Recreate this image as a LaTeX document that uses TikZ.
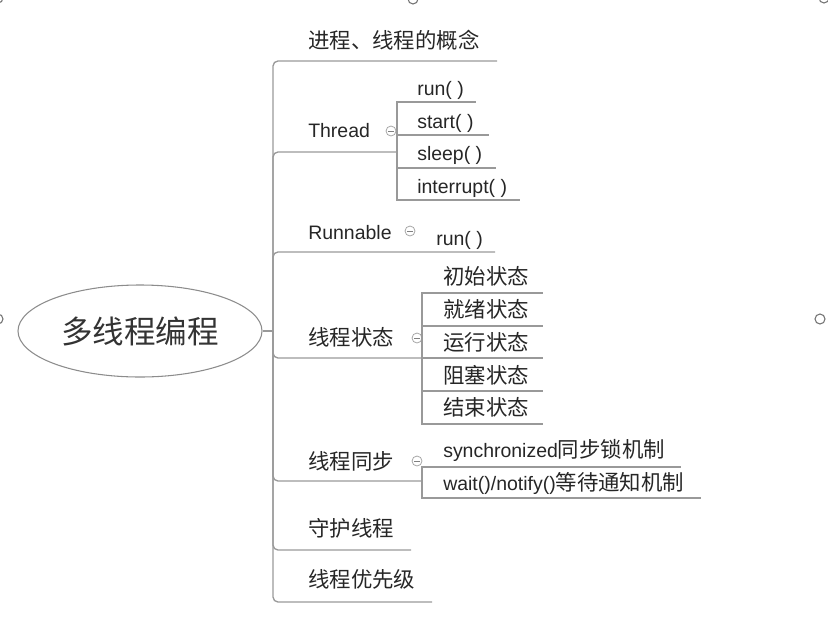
\documentclass[tikz,border=0pt]{standalone}
\usepackage{fontspec}
\setmainfont{Liberation Sans}
\newfontfamily\cjk[Scale=1.1]{Noto Sans CJK SC}
\usetikzlibrary{shapes.geometric}

\begin{document}
\begin{tikzpicture}[x=0.75pt,y=-0.75pt,
  root node/.style={ellipse,draw=black!45,line width=0.8pt,minimum width=183pt,minimum height=69pt,inner sep=0pt,font=\fontsize{21.5}{26}\selectfont\cjk,text=black!80},
  main node/.style={anchor=base west,inner sep=0pt,font=\fontsize{14.6}{17}\selectfont,text=black!85},
  fold node/.style={circle,draw=black!35,line width=0.6pt,minimum size=7.5pt,inner sep=0pt,
    path picture={\draw[black!50,line width=0.6pt] ([xshift=-2.2pt]path picture bounding box.center) -- ([xshift=2.2pt]path picture bounding box.center);}},
  link/.style={draw=black!40,line width=1pt},
  handle/.style={draw=black!55,line width=0.8pt}]

  \useasboundingbox (0,0) rectangle (828,618);

  % selection handles at the border
  \draw[handle] (-2,-2) circle (3.75pt);
  \draw[handle] (413,-1) circle (3.75pt);
  \draw[handle] (824,-2) circle (3.75pt);
  \draw[handle] (-2,319) circle (3.75pt);
  \draw[handle] (820,319) circle (3.75pt);

  \node[root node] (root) at (140,331) {多线程编程};
  \coordinate (trunk) at (273,331);

  \node[main node] (concept) at (308,48) {\cjk 进程、线程的概念};
  \node[main node] (thread) at (308,137) {Thread};
  \node[main node] (run) at (417,95) {run( )};
  \node[main node] (start) at (417,128) {start( )};
  \node[main node] (sleep) at (417,160) {sleep( )};
  \node[main node] (interrupt) at (417,193) {interrupt( )};
  \node[main node] (runnable) at (308,239) {Runnable};
  \node[main node] (runnable-run) at (436,245) {run( )};
  \node[main node] (state) at (308,345.5) {\cjk 线程状态};
  \node[main node] (init) at (443,284) {\cjk 初始状态};
  \node[main node] (ready) at (443,317) {\cjk 就绪状态};
  \node[main node] (running) at (443,350) {\cjk 运行状态};
  \node[main node] (blocked) at (443,383) {\cjk 阻塞状态};
  \node[main node] (dead) at (443,415) {\cjk 结束状态};
  \node[main node] (sync) at (308,469) {\cjk 线程同步};
  \node[main node] (lock) at (443,457) {synchronized\cjk 同步锁机制};
  \node[main node] (wait) at (443,490) {wait()/notify()\cjk 等待通知机制};
  \node[main node] (daemon) at (308,536) {\cjk 守护线程};
  \node[main node] (priority) at (308,587) {\cjk 线程优先级};

  \node[fold node] (thread-fold) at (391,131) {};
  \node[fold node] (runnable-fold) at (410,231) {};
  \node[fold node] (state-fold) at (417,338) {};
  \node[fold node] (sync-fold) at (417,461) {};

  % ends of the underlines
  \coordinate (concept-end) at (497,61);
  \coordinate (thread-end) at (397,152);
  \coordinate (run-end) at (476,102);
  \coordinate (start-end) at (489,135);
  \coordinate (sleep-end) at (496,168);
  \coordinate (interrupt-end) at (520,200);
  \coordinate (runnable-end) at (495,252);
  \coordinate (state-end) at (422,358);
  \coordinate (init-end) at (543,293);
  \coordinate (ready-end) at (543,326);
  \coordinate (running-end) at (543,358);
  \coordinate (blocked-end) at (543,391);
  \coordinate (dead-end) at (543,424);
  \coordinate (sync-end) at (422,481);
  \coordinate (lock-end) at (681,467);
  \coordinate (wait-end) at (701,498);
  \coordinate (daemon-end) at (411,550);
  \coordinate (priority-end) at (432,602);

  \draw[link] (root.east) -- (trunk);
  \foreach \e in {concept,thread,runnable,state,sync,daemon,priority}
    \draw[link,rounded corners=3.75pt] (trunk) |- (\e-end);

  \foreach \e in {run,start,sleep,interrupt}
    \draw[link] (thread-end) |- (\e-end);
  \foreach \e in {init,ready,running,blocked,dead}
    \draw[link] (state-end) |- (\e-end);
  \foreach \e in {lock,wait}
    \draw[link] (sync-end) |- (\e-end);
\end{tikzpicture}
\end{document}
